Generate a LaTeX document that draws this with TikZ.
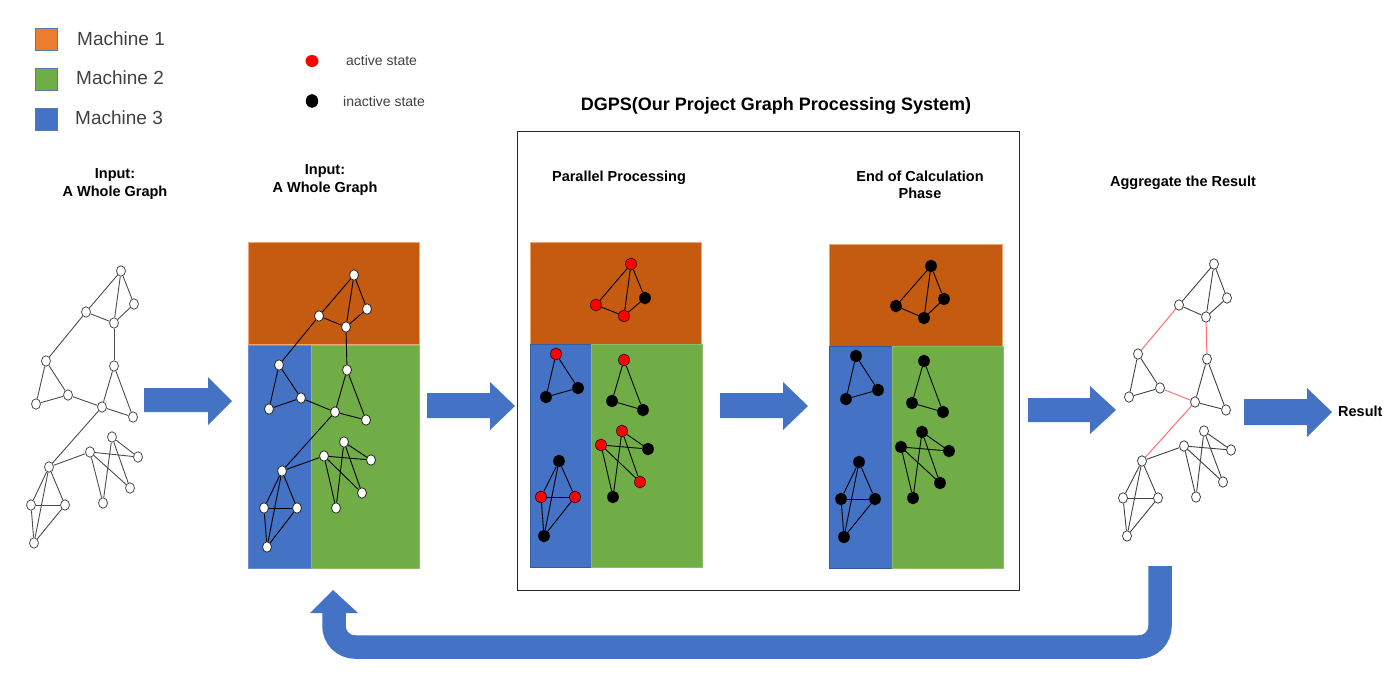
\documentclass[tikz,border=0pt]{standalone}
\usepackage{fontspec}
\setmainfont{Liberation Sans}
\usetikzlibrary{shapes.geometric}
\definecolor{morange}{HTML}{ED7D31}
\definecolor{porange}{HTML}{C55A11}
\definecolor{mgreen}{HTML}{70AD47}
\definecolor{mblue}{HTML}{4472C4}
\definecolor{redge}{HTML}{FF6F6F}
\definecolor{dtext}{HTML}{404040}
\def\inedges{A/C,A/D,A/B,B/D,C/D,E/G,E/H,H/G,F/I,F/J,I/J,L/M,K/M,K/P,L/P,L/O,K/O,N/Q,N/R,N/S,Q/R,Q/S,R/S}
\def\crossedges{C/E,D/F,G/I,I/N}
\begin{document}
\begin{tikzpicture}[x=1pt,y=-1pt,
  wn/.style={ellipse,draw=black!85,fill=white,line width=0.8pt,minimum width=9pt,minimum height=10.5pt,inner sep=0pt},
  sn/.style={ellipse,draw=black,line width=0.5pt,minimum width=11pt,minimum height=12pt,inner sep=0pt},
  gedge/.style={draw=black!80,line width=0.9pt},
  redgeline/.style={draw=redge,line width=1pt},
  lbl/.style={font=\bfseries\fontsize{14.5}{17.5}\selectfont,align=center,inner sep=0pt},
  legtext/.style={font=\fontsize{19}{23}\selectfont,text=dtext,anchor=west,inner sep=0pt},
  dottext/.style={font=\fontsize{14}{17}\selectfont,text=dtext,anchor=west,inner sep=0pt},
  lsq/.style={minimum size=22pt,inner sep=0pt,draw=mblue!60!gray,line width=0.5pt},
  barrow/.style={fill=mblue,draw=none},
  region/.style={line width=0.6pt}
]
\useasboundingbox (0,0) rectangle (1397,690);

% legend
\node[lsq,fill=morange] (sq1) at (46,39.5) {};
\node[lsq,fill=mgreen] (sq2) at (46,79) {};
\node[lsq,fill=mblue] (sq3) at (46,119) {};
\node[legtext] (t1) at (77,39) {Machine 1};
\node[legtext] (t2) at (76,78) {Machine 2};
\node[legtext] (t3) at (75,118) {Machine 3};
\node[ellipse,fill=red,minimum width=13pt,minimum height=12pt,inner sep=0pt] (dred) at (312,61) {};
\node[ellipse,fill=black,draw=black,minimum width=12pt,minimum height=13pt,inner sep=0pt] (dblk) at (312,101) {};
\node[dottext] (tact) at (346,60) {active state};
\node[dottext] (tina) at (343,101) {inactive state};

% titles
\node[font=\bfseries\fontsize{18}{21}\selectfont,inner sep=0pt] (title) at (776,106) {DGPS(Our Project Graph Processing System)};
\node[lbl] (l1) at (115,184) {Input:\\A Whole Graph};
\node[lbl] (l2) at (325,180) {Input:\\A Whole Graph};
\node[lbl] (l3) at (619,178) {Parallel Processing};
\node[lbl] (l4) at (920,185) {End of Calculation\\Phase};
\node[lbl] (l5) at (1183,183) {Aggregate the Result};
\node[lbl,anchor=west] (res) at (1338,411) {Result};

% frame
\draw[line width=1pt,black!85] (517,132) rectangle (1019,590);

% panel 2 regions
\fill[porange,draw=morange!70,region] (248,242) rectangle (419,344);
\fill[mblue,draw=mblue!80,region] (248,345) rectangle (311,568);
\fill[mgreen,draw=mgreen!80!white,region] (311,345) rectangle (419,568);
% panel 3 regions
\fill[porange,draw=morange!70,region] (530,242) rectangle (701,344);
\fill[mblue,draw=mblue!80!black,region] (530,344) rectangle (591,567);
\fill[mgreen,draw=mgreen!80!white,region] (591,344) rectangle (702,567);
% panel 4 regions
\fill[porange,draw=morange!70,region] (829,244) rectangle (1002,346);
\fill[mblue,draw=mblue!80!black,region] (829,346) rectangle (892,568);
\fill[mgreen,draw=mgreen!80!white,region] (892,346) rectangle (1003,568);

% graph 1
\foreach \n/\x/\y in {A/121/271,B/134/304,C/86/312,D/114/323,E/46/361,F/114/366,G/68/395,H/36/404,I/102/407,J/133/417,K/112/437,L/90/452,M/138/457,N/49/467,O/130/488,P/103/503,Q/31/505,R/65/505,S/34/543}
  \node[wn,draw=black!70] (g1\n) at (\x,\y) {};
\foreach \a/\b in \inedges \draw[gedge,draw=black!70] (g1\a) -- (g1\b);
\foreach \a/\b in {C/E,D/F,G/I,I/N,N/L} \draw[gedge,draw=black!70] (g1\a) -- (g1\b);

% graph 2
\foreach \n/\x/\y in {A/354/275,B/367/309,C/319/316,D/346/327,E/279/365,F/347/370,G/301/398,H/269/409,I/335/412,J/366/420,K/344/442,L/324/456,M/371/460,N/282/471,O/362/493,P/336/508,Q/264/508,R/297/508,S/267/547}
  \node[wn] (g2\n) at (\x,\y) {};
\foreach \a/\b in \inedges \draw[gedge,draw=black] (g2\a) -- (g2\b);
\foreach \a/\b in {C/E,D/F,G/I,I/N,N/L} \draw[gedge,draw=black] (g2\a) -- (g2\b);

% graph 3
\foreach \n/\x/\y/\c in {A/631/264/red,B/645/298/black,C/596/305/red,D/624/316/red,E/556/354/red,G/578/388/black,H/546/397/black,F/624/360/red,I/612/401/black,J/643/410/black,K/622/431/red,L/601/445/red,M/648/449/black,O/640/482/red,P/613/497/black,N/559/461/black,Q/541/497/red,R/575/497/red,S/544/536/black}
  \node[sn,fill=\c] (g3\n) at (\x,\y) {};
\foreach \a/\b in \inedges \draw[gedge,draw=black] (g3\a) -- (g3\b);

% graph 4
\foreach \n/\x/\y in {A/931/266,B/944/299,C/896/306,D/924/318,E/856/356,G/878/390,H/846/399,F/924/361,I/912/403,J/943/412,K/922/432,L/901/447,M/949/451,O/940/483,P/913/498,N/859/462,Q/841/499,R/875/499,S/844/537}
  \node[sn,fill=black] (g4\n) at (\x,\y) {};
\foreach \a/\b in \inedges \draw[gedge,draw=black] (g4\a) -- (g4\b);

% graph 5
\foreach \n/\x/\y in {A/1214/264,B/1227/298,C/1179/305,D/1206/317,E/1138/354,F/1207/359,G/1160/388,H/1129/397,I/1195/402,J/1226/410,K/1204/431,L/1184/446,M/1231/450,N/1142/461,O/1223/482,P/1196/497,Q/1123/498,R/1158/498,S/1127/536}
  \node[wn,draw=black!75] (g5\n) at (\x,\y) {};
\foreach \a/\b in \inedges \draw[gedge,draw=black!75] (g5\a) -- (g5\b);
\draw[gedge,draw=black!75] (g5N) -- (g5L);
\foreach \a/\b in \crossedges \draw[redgeline] (g5\a) -- (g5\b);

% block arrows
\fill[barrow] (144,388) -- (208,388) -- (208,377) -- (232,401) -- (208,425) -- (208,412) -- (144,412) -- cycle;
\fill[barrow] (427,393) -- (490,393) -- (490,382) -- (515,406) -- (490,430) -- (490,418) -- (427,418) -- cycle;
\fill[barrow] (720,393) -- (783,393) -- (783,382) -- (808,406) -- (783,430) -- (783,418) -- (720,418) -- cycle;
\fill[barrow] (1028,398) -- (1090,398) -- (1090,386) -- (1116,410) -- (1090,434) -- (1090,422) -- (1028,422) -- cycle;
\fill[barrow] (1244,399) -- (1307,399) -- (1307,388) -- (1332,412) -- (1307,437) -- (1307,425) -- (1244,425) -- cycle;

% feedback arrow
\coordinate (fbstart) at (1160,566);
\coordinate (fbc1) at (1160,647);
\coordinate (fbc2) at (334,647);
\coordinate (fbend) at (334,612);
\draw[mblue,line width=23.5pt,rounded corners=21pt] (fbstart) -- (fbc1) -- (fbc2) -- (fbend);
\fill[barrow] (310,613) -- (333,590) -- (358,613) -- cycle;
\end{tikzpicture}
\end{document}
